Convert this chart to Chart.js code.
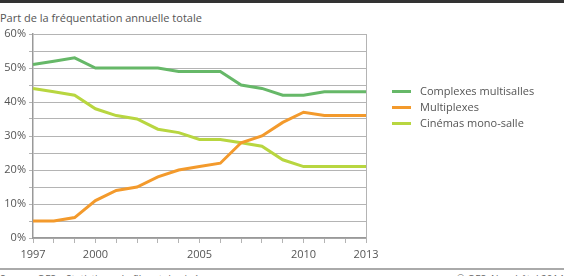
<!DOCTYPE html>
<html>
<head>
<meta charset="utf-8">
<script src="https://cdn.jsdelivr.net/npm/chart.js@4"></script>
<style>
    body { margin: 0; width: 564px; height: 276px; overflow: hidden; background: #fff; font-family: "Open Sans", sans-serif; color: #555; position: relative; }
    .topLine { position: absolute; left: 0; top: 0; width: 564px; height: 3px; background: #333; }
    .title { position: absolute; left: 0; top: 11px; font-size: 11px; line-height: 14px; }
    #chartBox { position: absolute; left: 0; top: 0; width: 564px; height: 265px; }
    .legend { position: absolute; left: 392px; top: 83px; font-size: 11px; }
    .legend div { height: 16px; line-height: 16px; white-space: nowrap; }
    .legend span { display: inline-block; width: 19px; height: 3px; vertical-align: middle; margin-right: 9px; position: relative; top: -1px; }
    .bottomLine { position: absolute; left: 0; top: 268px; width: 564px; height: 2px; background: #aaa; }
    .foot { position: absolute; top: 273px; font-size: 10px; line-height: 12px; color: #666; }
</style>
</head>
<body>
<div class="topLine"></div>
<div class="title">Part de la fréquentation annuelle totale</div>
<div id="chartBox"><canvas id="chart"></canvas></div>
<div class="legend" id="legend"></div>
<div class="bottomLine"></div>
<div class="foot" style="left:0">Source: OFS – Statistique du film et du cinéma</div>
<div class="foot" style="right:0">© OFS, Neuchâtel 2014</div>

<script>
const years = ['1997', '1998', '1999', '2000', '2001', '2002', '2003', '2004', '2005', '2006', '2007', '2008', '2009', '2010', '2011', '2012', '2013']
const shownYears = ['1997', '2000', '2005', '2010', '2013']
const complexes = [51, 52, 53, 50, 50, 50, 50, 49, 49, 49, 45, 44, 42, 42, 43, 43, 43]
const multiplexes = [5, 5, 6, 11, 14, 15, 18, 20, 21, 22, 28, 30, 34, 37, 36, 36, 36]
const monoSalle = [44, 43, 42, 38, 36, 35, 32, 31, 29, 29, 28, 27, 23, 21, 21, 21, 21]
const seriesNames = ['Complexes multisalles', 'Multiplexes', 'Cinémas mono-salle']
const seriesColors = ['#66b868', '#f39a2c', '#b8d640']

const gridColor = '#b4b4b4'
const fontSpec = { family: 'Open Sans', size: 11 }

const ctx = document.getElementById('chart').getContext('2d')
const chart = new Chart(ctx, {
    type: 'line',
    data: {
        labels: years,
        datasets: [complexes, multiplexes, monoSalle].map((values, i) => ({
            label: seriesNames[i],
            data: values,
            borderColor: seriesColors[i],
            backgroundColor: seriesColors[i],
            borderWidth: 3,
            pointRadius: 0,
            tension: 0,
            fill: false
        }))
    },
    options: {
        responsive: true,
        maintainAspectRatio: false,
        animation: false,
        layout: { padding: { left: 0, top: 34, right: 198, bottom: 1 } },
        plugins: {
            legend: { display: false },
            tooltip: { enabled: false }
        },
        scales: {
            x: {
                offset: false,
                afterFit: (scale) => { scale.height = 26 },
                grid: { drawOnChartArea: false, color: gridColor, tickLength: 5 },
                border: { color: '#999', width: 1.5 },
                ticks: {
                    autoSkip: false,
                    maxRotation: 0,
                    padding: 5,
                    color: '#555',
                    font: fontSpec,
                    callback: function (value) {
                        const lbl = this.getLabelForValue(value)
                        return shownYears.includes(lbl) ? lbl : ''
                    }
                }
            },
            y: {
                min: 0,
                max: 60,
                afterFit: (scale) => { scale.width = 33 },
                grid: { color: gridColor, tickLength: 4 },
                border: { color: '#999', width: 1.5 },
                ticks: {
                    stepSize: 5,
                    padding: 3,
                    color: '#555',
                    font: fontSpec,
                    callback: (v) => v % 10 === 0 ? v + '%' : ''
                }
            },
            y2: {
                position: 'right',
                min: 0,
                max: 60,
                afterFit: (scale) => { scale.width = 0 },
                grid: { display: false },
                border: { color: gridColor, width: 1 },
                ticks: { display: false }
            }
        }
    }
})

const legendEl = document.getElementById('legend')
chart.data.datasets.forEach(ds => {
    const row = document.createElement('div')
    row.innerHTML = `<span style="background:${ds.borderColor}"></span>${ds.label}`
    legendEl.appendChild(row)
})
</script>
</body>
</html>
